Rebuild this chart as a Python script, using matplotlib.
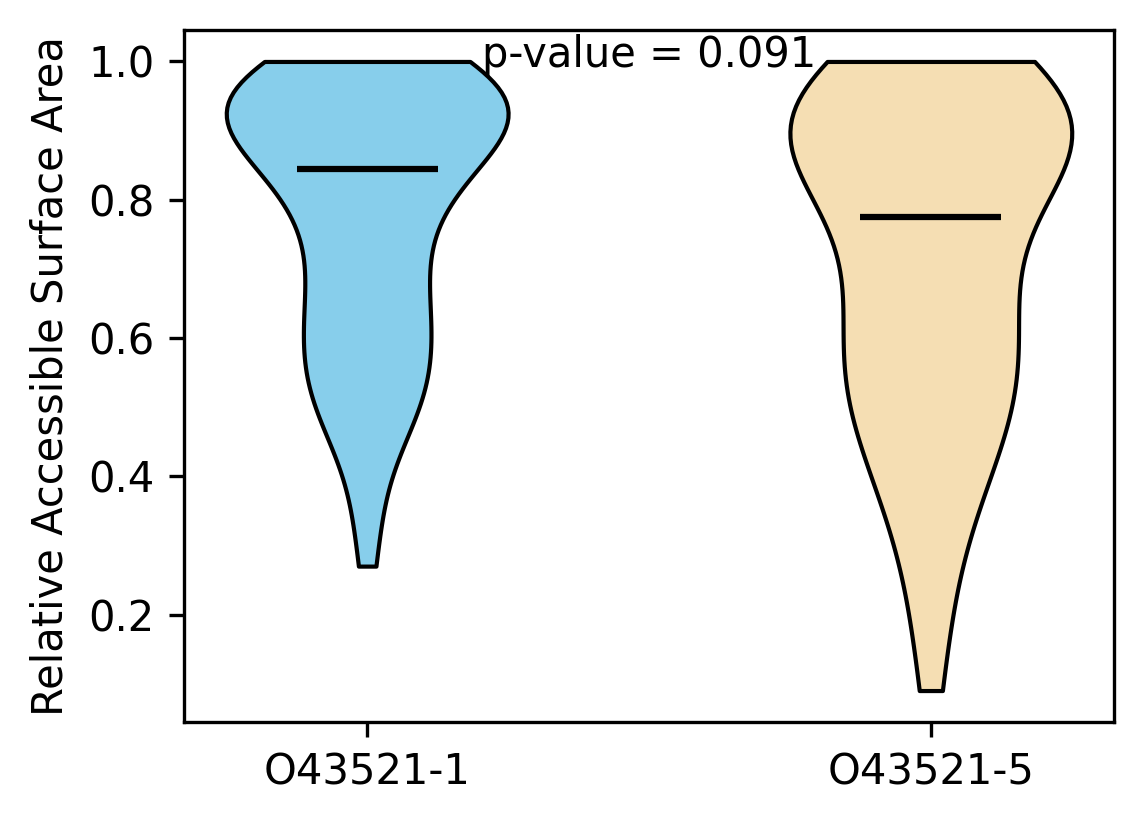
import numpy as np
import matplotlib
matplotlib.use('Agg')
from matplotlib import pyplot as plt

labels = ['O43521-1', 'O43521-5']
colors = ['skyblue', 'wheat']
bandwidths = [0.38, 0.45]
p_text = 'p-value = 0.091'

# relative ASA values per isoform
rsa_1 = [1.0, 1.0, 1.0, 1.0, 0.995, 0.99, 0.985, 0.98, 0.975, 0.97, 0.965,
         0.96, 0.96, 0.955, 0.95, 0.95, 0.945, 0.94, 0.94, 0.935, 0.93, 0.93,
         0.925, 0.92, 0.915, 0.91, 0.905, 0.90, 0.895, 0.89, 0.885, 0.88,
         0.87, 0.865, 0.86, 0.85,
         0.845,
         0.84, 0.83, 0.82, 0.81, 0.80, 0.79, 0.775, 0.76, 0.745, 0.735,
         0.72, 0.705, 0.69, 0.675, 0.66, 0.65, 0.645, 0.63, 0.615, 0.605,
         0.59, 0.585, 0.575, 0.56, 0.545, 0.53, 0.525, 0.515, 0.50, 0.495,
         0.48, 0.46, 0.44, 0.385, 0.34, 0.27]
rsa_5 = [1.0, 1.0, 1.0, 0.99, 0.98, 0.975, 0.97, 0.965, 0.96, 0.955, 0.95,
         0.945, 0.94, 0.935, 0.93, 0.925, 0.92, 0.915, 0.91, 0.905, 0.90,
         0.895, 0.89, 0.88, 0.875, 0.87, 0.865, 0.86, 0.855, 0.85, 0.845,
         0.84, 0.83, 0.815, 0.80,
         0.775,
         0.765, 0.745, 0.725, 0.705, 0.69, 0.675, 0.66, 0.645, 0.635, 0.63,
         0.615, 0.60, 0.585, 0.58, 0.57, 0.555, 0.54, 0.525, 0.52, 0.515,
         0.50, 0.49, 0.475, 0.46, 0.445, 0.43, 0.41, 0.39, 0.37, 0.345,
         0.315, 0.275, 0.22, 0.165, 0.09]

fig = plt.figure(figsize=(1144/300, 824/300), dpi=300)
ax = fig.add_axes([184/1144, 1 - 722/824, 930/1144, 692/824])

for i, (vals, c, bw) in enumerate(zip([rsa_1, rsa_5], colors, bandwidths)):
    parts = ax.violinplot([vals], positions=[i + 1], showmedians=True,
                          showextrema=False, bw_method=bw)
    body = parts['bodies'][0]
    body.set_facecolor(c)
    body.set_edgecolor('black')
    body.set_alpha(1)
    body.set_linewidth(1)
    parts['cmedians'].set_color('black')
    parts['cmedians'].set_linewidth(1.5)

ax.set_xticks([1, 2])
ax.set_xticklabels(labels)
ax.set_ylabel('Relative Accessible Surface Area')
ax.text(1.5, 1.01, p_text, ha='center', va='center')

fig.savefig('out.png', dpi=300)
